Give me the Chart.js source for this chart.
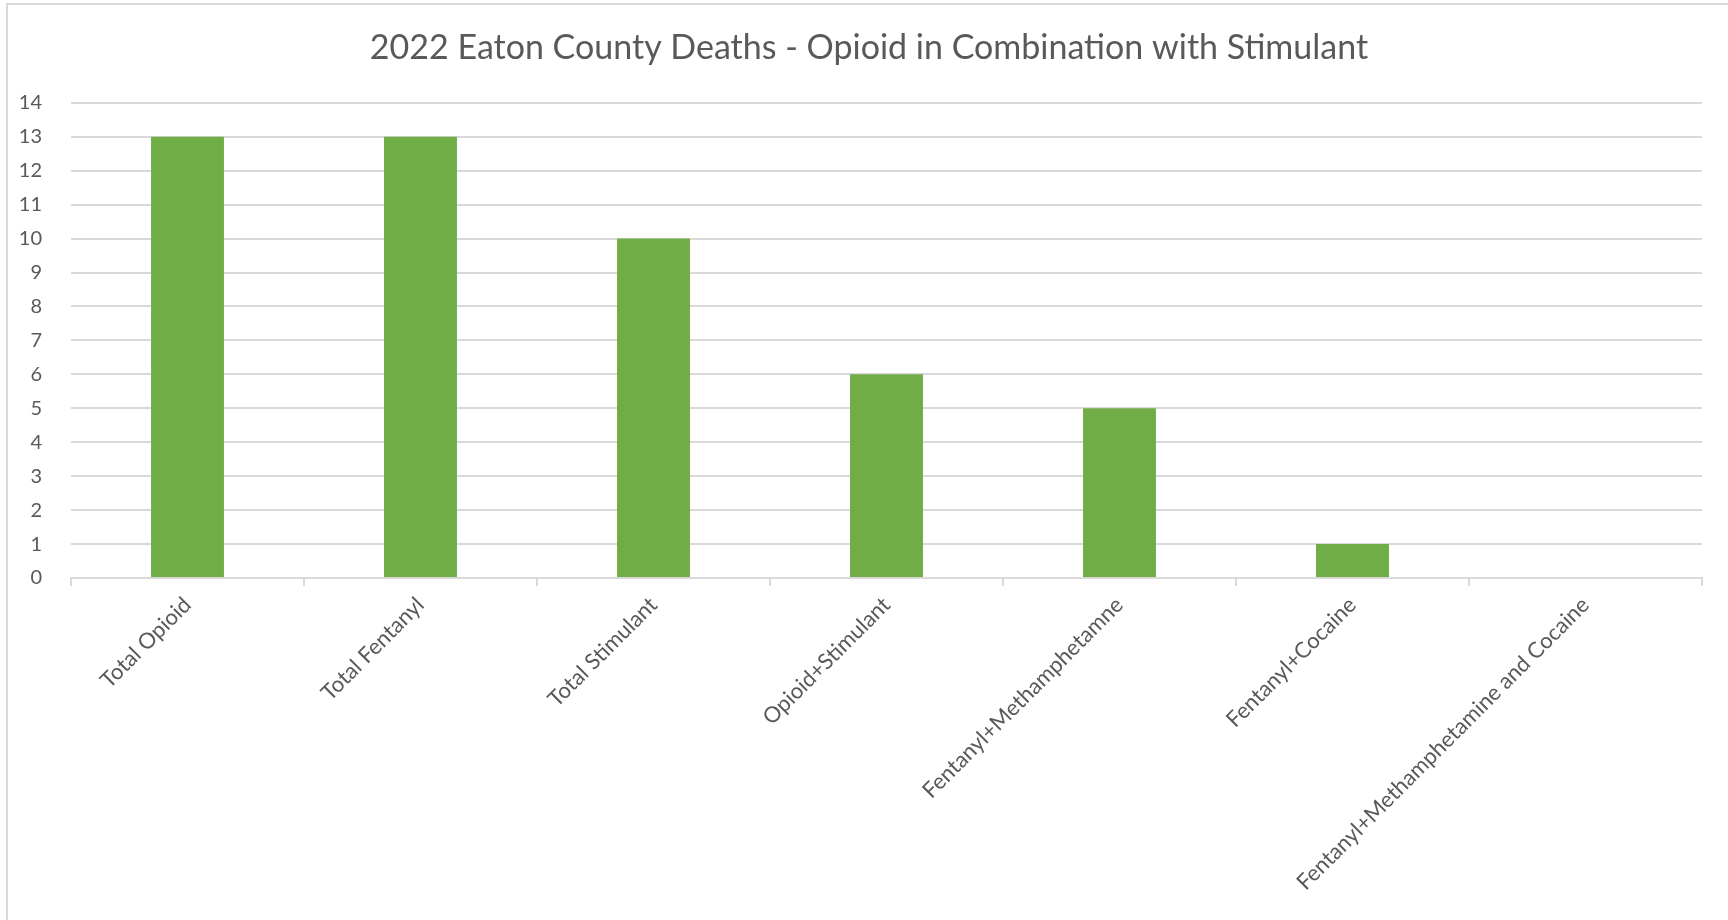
<!DOCTYPE html>
<html>
<head>
<meta charset="utf-8">
<title>2022 Eaton County Deaths</title>
<script src="https://cdn.jsdelivr.net/npm/chart.js@4"></script>
<style>
  html, body { margin: 0; padding: 0; background: #fff; overflow: hidden; }
  #frame {
    position: absolute; left: 6px; top: 3px; width: 1760px; height: 960px;
    border: 2px solid #d9d9d9; box-sizing: border-box;
  }
  #wrap { position: absolute; left: 0; top: 0; width: 1728px; height: 920px; }
</style>
</head>
<body>
<div id="frame"></div>
<div id="wrap"><canvas id="chart"></canvas></div>
<script>
const categories = [
    'Total Opioid',
    'Total Fentanyl',
    'Total Stimulant',
    'Opioid+Stimulant',
    'Fentanyl+Methamphetamne',
    'Fentanyl+Cocaine',
    'Fentanyl+Methamphetamine and Cocaine'
];
const deaths = [13, 13, 10, 6, 5, 1, 0];
const yTicks = [0, 1, 2, 3, 4, 5, 6, 7, 8, 9, 10, 11, 12, 13, 14];

const textColor = '#595959';
const lineColor = '#d9d9d9';
const fontFamily = 'Lato, "Open Sans", sans-serif';

let ctx = document.getElementById('chart').getContext('2d');

new Chart(ctx, {
    type: 'bar',
    data: {
        labels: categories,
        datasets: [{
            label: 'Deaths',
            data: deaths,
            backgroundColor: '#70ad47',
            borderWidth: 0,
            barPercentage: 0.313,
            categoryPercentage: 1
        }]
    },
    options: {
        responsive: true,
        maintainAspectRatio: false,
        animation: false,
        layout: {
            // left offset matches the frame so the title sits centred in it
            padding: { left: 10, right: 0, top: 0, bottom: 0 }
        },
        plugins: {
            legend: { display: false },
            tooltip: { enabled: false },
            title: {
                display: true,
                text: '2022 Eaton County Deaths - Opioid in Combination with Stimulant',
                color: textColor,
                font: { family: fontFamily, size: 34, weight: 'normal' },
                padding: { top: 28, bottom: 34 }
            }
        },
        scales: {
            x: {
                offset: true,
                grid: {
                    display: true,
                    drawOnChartArea: false,
                    drawTicks: true,
                    tickLength: 8,
                    offset: true,
                    color: lineColor,
                    lineWidth: 2
                },
                border: { display: true, color: lineColor, width: 2 },
                ticks: {
                    color: textColor,
                    font: { family: fontFamily, size: 22 },
                    minRotation: 45,
                    maxRotation: 45,
                    autoSkip: false,
                    padding: 6
                },
                afterFit: (scale) => {
                    scale.height = 342;
                    scale.paddingRight = 26;   // gap between plot and right edge
                }
            },
            y: {
                min: 0,
                max: 14,
                afterBuildTicks: (scale) => {
                    scale.ticks = yTicks.map(v => ({ value: v }));
                },
                grid: {
                    color: lineColor,
                    lineWidth: 2,
                    drawTicks: false
                },
                border: { display: false },
                ticks: {
                    color: textColor,
                    font: { family: fontFamily, size: 20 },
                    padding: 29
                },
                afterFit: (scale) => { scale.width = 61; }
            }
        }
    }
});
</script>
</body>
</html>
